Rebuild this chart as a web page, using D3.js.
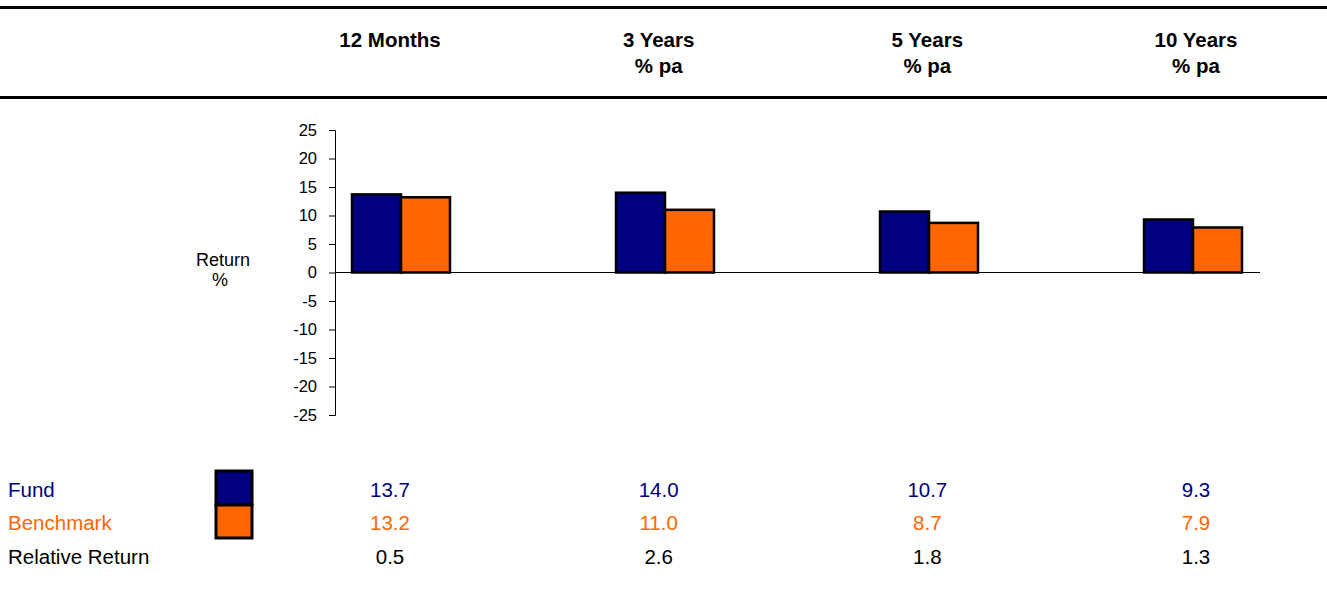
<!DOCTYPE html>
<html>
<head>
<meta charset="utf-8">
<script src="https://cdn.jsdelivr.net/npm/d3@7"></script>
<style>
  html, body { margin: 0; padding: 0; background: #fff; }
  svg { display: block; font-family: Arial, "Liberation Sans", sans-serif; }
</style>
</head>
<body>
<svg id="chart" width="1327" height="601"></svg>
<script>
// 기간별 수익률 데이터
const periods = ['12 Months', '3 Years', '5 Years', '10 Years'];
const periodSub = ['', '% pa', '% pa', '% pa'];
const fundValues = [13.7, 14.0, 10.7, 9.3];
const benchmarkValues = [13.2, 11.0, 8.7, 7.9];
const relativeValues = [0.5, 2.6, 1.8, 1.3];
const yTicks = [25, 20, 15, 10, 5, 0, -5, -10, -15, -20, -25];

const FUND_COLOR = '#000080';
const BENCH_COLOR = '#FF6600';

const svg = d3.select('#chart');
const W = 1327;

// 헤더 라인
svg.append('rect').attr('x', 0).attr('y', 6).attr('width', W).attr('height', 3).attr('fill', '#000');
svg.append('rect').attr('x', 0).attr('y', 96).attr('width', W).attr('height', 3).attr('fill', '#000');

// 표 열 위치
const col = d3.scalePoint().domain(periods).range([390, 1196]);

const header = svg.append('g')
  .selectAll('text')
  .data(periods)
  .join('text')
  .attr('text-anchor', 'middle')
  .attr('font-weight', 'bold')
  .attr('font-size', 20.5);
header.append('tspan').attr('x', d => col(d)).attr('y', 47).text(d => d);
header.append('tspan').attr('x', d => col(d)).attr('y', 73).text((d, i) => periodSub[i]);

// 차트 스케일
const y = d3.scaleLinear().domain([-25, 25]).range([415, 130]);
const x0 = d3.scaleBand().domain(periods).range([269, 1325]);
const x1 = d3.scaleBand().domain(['fund', 'bench']).range([0, 98]);
const barOffset = (x0.bandwidth() - 98) / 2;

// y축
const yAxis = svg.append('g')
  .attr('transform', 'translate(335,0)')
  .call(d3.axisLeft(y).tickValues(yTicks).tickSize(6).tickPadding(12).tickFormat(d => String(d)));
yAxis.select('.domain').attr('stroke', '#000').attr('stroke-width', 1);
yAxis.selectAll('.tick line').attr('stroke', '#000');
yAxis.selectAll('.tick text')
  .attr('font-size', 16.5)
  .attr('fill', '#000')
  .attr('font-family', 'Arial, "Liberation Sans", sans-serif');

svg.append('text')
  .attr('text-anchor', 'middle')
  .attr('font-size', 18)
  .selectAll('tspan')
  .data(['Return', '%'])
  .join('tspan')
  .attr('x', (d, i) => i === 0 ? 223 : 220)
  .attr('y', (d, i) => 266 + i * 20)
  .text(d => d);

// 막대
const rows = periods.map((p, i) => ({ period: p, fund: fundValues[i], bench: benchmarkValues[i] }));
const groups = svg.append('g')
  .selectAll('g')
  .data(rows)
  .join('g')
  .attr('transform', d => `translate(${x0(d.period) + barOffset},0)`);

groups.selectAll('rect')
  .data(d => [
    { key: 'fund', value: d.fund, color: FUND_COLOR },
    { key: 'bench', value: d.bench, color: BENCH_COLOR }
  ])
  .join('rect')
  .attr('x', d => x1(d.key))
  .attr('y', d => y(Math.max(0, d.value)))
  .attr('width', x1.bandwidth())
  .attr('height', d => Math.abs(y(d.value) - y(0)))
  .attr('fill', d => d.color)
  .attr('stroke', '#000')
  .attr('stroke-width', 2.5);

// 0 기준선
svg.append('line')
  .attr('x1', 335).attr('x2', 1260)
  .attr('y1', y(0)).attr('y2', y(0))
  .attr('stroke', '#000').attr('stroke-width', 1);

// 하단 표
const tableRows = [
  { label: 'Fund', values: fundValues, color: FUND_COLOR, y: 497 },
  { label: 'Benchmark', values: benchmarkValues, color: BENCH_COLOR, y: 530 },
  { label: 'Relative Return', values: relativeValues, color: '#000', y: 564 }
];

const tr = svg.append('g')
  .selectAll('g')
  .data(tableRows)
  .join('g')
  .attr('fill', d => d.color)
  .attr('font-size', 20.5);

tr.append('text')
  .attr('x', 8)
  .attr('y', d => d.y)
  .text(d => d.label);

tr.selectAll('text.val')
  .data(d => d.values.map((v, i) => ({ v, p: periods[i], y: d.y })))
  .join('text')
  .attr('class', 'val')
  .attr('x', d => col(d.p))
  .attr('y', d => d.y)
  .attr('text-anchor', 'middle')
  .text(d => d3.format('.1f')(d.v));

// 범례 상자
svg.append('rect').attr('x', 216).attr('y', 471).attr('width', 36).attr('height', 34)
  .attr('fill', FUND_COLOR).attr('stroke', '#000').attr('stroke-width', 3);
svg.append('rect').attr('x', 216).attr('y', 505).attr('width', 36).attr('height', 33)
  .attr('fill', BENCH_COLOR).attr('stroke', '#000').attr('stroke-width', 3);
</script>
</body>
</html>
